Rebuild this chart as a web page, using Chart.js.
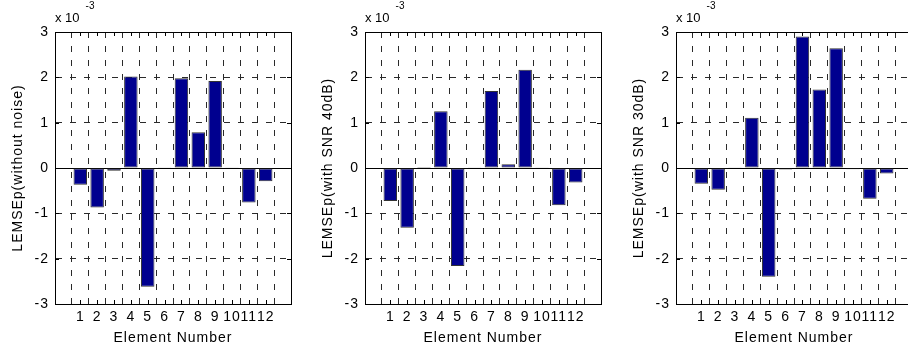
<!DOCTYPE html>
<html>
<head>
<meta charset="utf-8">
<script src="https://cdn.jsdelivr.net/npm/chart.js@4/dist/chart.umd.min.js"></script>
<style>
  html, body { margin: 0; padding: 0; background: #fff; overflow: hidden; width: 908px; height: 353px; }
  canvas { position: absolute; top: 0; }
</style>
</head>
<body>
<canvas id="c1" width="300" height="353" style="left:0px"></canvas>
<canvas id="c2" width="300" height="353" style="left:310px"></canvas>
<canvas id="c3" width="300" height="353" style="left:621px"></canvas>
<script>
// ---- data (values in units of 1e-3) ----
const categories = [1, 2, 3, 4, 5, 6, 7, 8, 9, 10, 11, 12];
const xTickLabels = ['1', '2', '3', '4', '5', '6', '7', '8', '9', '10', '11', '12'];
const yTicks = [-3, -2, -1, 0, 1, 2, 3];
const yTickLabels = ['-3', '-2', '-1', '0', '1', '2', '3'];
const noNoise = [-0.37, -0.87, -0.06, 2.02, -2.62, 0.005, 1.98, 0.79, 1.92, 0.005, -0.76, -0.29];
const snr40   = [-0.73, -1.32, 0.02, 1.25, -2.16, 0.005, 1.70, 0.08, 2.17, 0.005, -0.82, -0.32];
const snr30   = [-0.35, -0.48, 0.005, 1.11, -2.40, -0.035, 2.90, 1.73, 2.64, -0.03, -0.68, -0.12];
const yTitles = ['LEMSEp(without noise)', 'LEMSEp(with SNR 40dB)', 'LEMSEp(with SNR 30dB)'];
const xTitle = 'Element Number';
const exponentBase = 'x 10';
const exponentPower = '-3';

const FONT = "'Liberation Sans', Arial, Helvetica, sans-serif";
const BAR_COLOR = '#00008f';
const GRID_COLOR = '#2a2a2a';

const spacingPlugin = {
  id: 'spacing',
  beforeDraw(chart) { chart.ctx.letterSpacing = '1px'; }
};

const framePlugin = {
  id: 'frame',
  afterDraw(chart) {
    const ctx = chart.ctx;
    const a = chart.chartArea;
    const xs = chart.scales.x, ys = chart.scales.y;
    ctx.save();
    ctx.strokeStyle = '#000';
    ctx.lineWidth = 1;
    ctx.setLineDash([]);
    ctx.beginPath();
    // top and right edges of the box
    ctx.moveTo(Math.round(a.left) + 0.5, Math.round(a.top) + 0.5);
    ctx.lineTo(Math.round(a.right) + 0.5, Math.round(a.top) + 0.5);
    ctx.lineTo(Math.round(a.right) + 0.5, Math.round(a.bottom) + 0.5);
    // inward tick marks
    const tl = 4;
    categories.forEach(c => {
      const px = Math.round(xs.getPixelForValue(c)) + 0.5;
      ctx.moveTo(px, a.bottom); ctx.lineTo(px, a.bottom - tl);
      ctx.moveTo(px, a.top); ctx.lineTo(px, a.top + tl);
    });
    yTicks.forEach(v => {
      const py = Math.round(ys.getPixelForValue(v)) + 0.5;
      ctx.moveTo(a.left, py); ctx.lineTo(a.left + tl, py);
      ctx.moveTo(a.right, py); ctx.lineTo(a.right - tl, py);
    });
    ctx.stroke();
    // exponent label
    ctx.letterSpacing = '0px';
    ctx.fillStyle = '#000';
    ctx.textBaseline = 'alphabetic';
    ctx.textAlign = 'left';
    ctx.font = '13px ' + FONT;
    ctx.fillText(exponentBase, a.left, a.top - 10);
    const w = ctx.measureText(exponentBase).width;
    ctx.font = '10px ' + FONT;
    ctx.fillText(exponentPower, a.left + w + 6, a.top - 23);
    ctx.restore();
  }
};

function makeChart(id, values, yTitle) {
  return new Chart(document.getElementById(id), {
    type: 'bar',
    data: {
      datasets: [{
        data: categories.map((c, i) => ({ x: c, y: values[i] })),
        backgroundColor: BAR_COLOR,
        borderColor: '#333',
        borderWidth: 1,
        borderSkipped: false,
        barPercentage: 0.8,
        categoryPercentage: 1.0
      }]
    },
    options: {
      responsive: false,
      animation: false,
      devicePixelRatio: 1,
      layout: { padding: { top: 32, right: 9, left: 0, bottom: 0 } },
      plugins: { legend: { display: false }, tooltip: { enabled: false } },
      scales: {
        x: {
          type: 'linear',
          min: 0,
          max: categories.length + 1,
          afterBuildTicks: s => { s.ticks = [0, ...categories, categories.length + 1].map(v => ({ value: v })); },
          afterFit: s => { s.height = 49; },
          ticks: {
            autoSkip: false,
            maxRotation: 0,
            padding: 5,
            color: '#000',
            font: { family: FONT, size: 14 },
            callback: v => { const i = categories.indexOf(v); return i >= 0 ? xTickLabels[i] : ''; }
          },
          grid: { color: GRID_COLOR, lineWidth: 1, drawTicks: false },
          border: { color: '#000', width: 1, dash: [6, 8] },
          title: {
            display: true, text: xTitle, color: '#000',
            font: { family: FONT, size: 14 },
            padding: { top: 0, bottom: 6 }
          }
        },
        y: {
          type: 'linear',
          min: yTicks[0],
          max: yTicks[yTicks.length - 1],
          afterBuildTicks: s => { s.ticks = yTicks.map(v => ({ value: v })); },
          afterFit: s => { s.width = 55; },
          ticks: {
            padding: 6,
            color: '#000',
            font: { family: FONT, size: 14 },
            callback: v => { const i = yTicks.indexOf(v); return i >= 0 ? yTickLabels[i] : ''; }
          },
          grid: {
            color: c => (c.tick && c.tick.value === 0 ? '#000' : GRID_COLOR),
            lineWidth: 1,
            drawTicks: false
          },
          border: {
            color: '#000', width: 1,
            dash: c => (c.tick && c.tick.value === 0 ? [] : [6, 8])
          },
          title: {
            display: true, text: yTitle, color: '#000',
            font: { family: FONT, size: 14 },
            padding: { top: 10, bottom: 0 }
          }
        }
      }
    },
    plugins: [spacingPlugin, framePlugin]
  });
}

makeChart('c1', noNoise, yTitles[0]);
makeChart('c2', snr40, yTitles[1]);
makeChart('c3', snr30, yTitles[2]);
</script>
</body>
</html>
